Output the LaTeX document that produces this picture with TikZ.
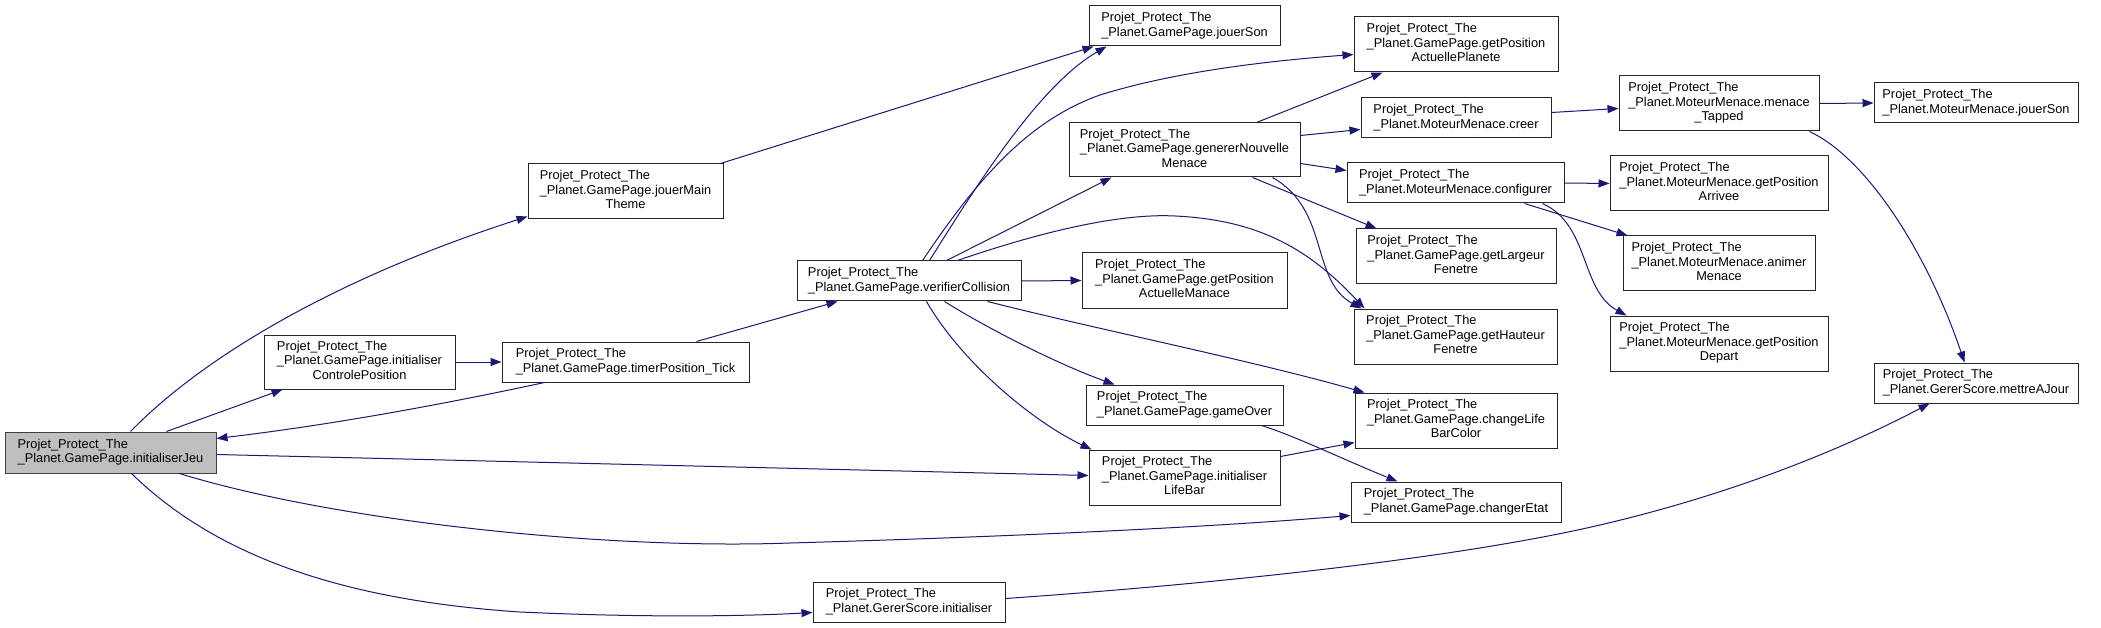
\documentclass[tikz,border=0pt]{standalone}
\usepackage{fontspec}
\setmainfont{Liberation Sans}
\usetikzlibrary{arrows.meta,calc}
\definecolor{edgeblue}{HTML}{191970}
\definecolor{rootgray}{HTML}{BFBFBF}
\newcommand\TwoL[2]{\begin{tabular}{@{}l@{}}#1\\#2\end{tabular}}
\newcommand\ThreeL[3]{\begin{tabular}{@{}l@{}}#1\\#2\\\multicolumn{1}{@{}c@{}}{#3}\end{tabular}}
\newcommand\PPT{Projet\_Protect\_The}
\begin{document}
\begin{tikzpicture}[x=1pt,y=-1pt,
 fn/.style={draw=black!85, fill=white, line width=1pt, rectangle, inner sep=0pt, font=\fontsize{12.8}{14.5}\selectfont},
 rootfn/.style={fn, fill=rootgray, draw=black!75},
 edge/.style={draw=edgeblue, line width=1pt, -{Triangle[length=11pt,width=8pt]}},
]
\useasboundingbox[fill=white] (0,0) rectangle (2101,628);

% nodes
\node[rootfn, minimum width=211, minimum height=41] (ij) at (110.5,452.5) {\TwoL{\PPT}{\_Planet.GamePage.initialiserJeu}};
\node[fn, minimum width=191, minimum height=54] (icp) at (359.5,362) {\ThreeL{\PPT}{\_Planet.GamePage.initialiser}{ControlePosition}};
\node[fn, minimum width=247, minimum height=40] (tpt) at (625.5,362) {\TwoL{\PPT}{\_Planet.GamePage.timerPosition\_Tick}};
\node[fn, minimum width=192, minimum height=40] (gsi) at (909,602) {\TwoL{\PPT}{\_Planet.GererScore.initialiser}};
\node[fn, minimum width=195, minimum height=55] (jmt) at (625.5,191.5) {\ThreeL{\PPT}{\_Planet.GamePage.jouerMain}{Theme}};
\node[fn, minimum width=224, minimum height=40] (vc) at (909,281) {\TwoL{\PPT}{\_Planet.GamePage.verifierCollision}};
\node[fn, minimum width=191, minimum height=40] (js) at (1184.5,26) {\TwoL{\PPT}{\_Planet.GamePage.jouerSon}};
\node[fn, minimum width=231, minimum height=54] (gnm) at (1184.5,150) {\ThreeL{\PPT}{\_Planet.GamePage.genererNouvelle}{Menace}};
\node[fn, minimum width=205, minimum height=55] (gpam) at (1184.5,280.5) {\ThreeL{\PPT}{\_Planet.GamePage.getPosition}{ActuelleManace}};
\node[fn, minimum width=197, minimum height=40] (go) at (1184.5,405) {\TwoL{\PPT}{\_Planet.GamePage.gameOver}};
\node[fn, minimum width=191, minimum height=55] (ilb) at (1184.5,477.5) {\ThreeL{\PPT}{\_Planet.GamePage.initialiser}{LifeBar}};
\node[fn, minimum width=204, minimum height=55] (gpap) at (1456,44.5) {\ThreeL{\PPT}{\_Planet.GamePage.getPosition}{ActuellePlanete}};
\node[fn, minimum width=190, minimum height=40] (cr) at (1456,118) {\TwoL{\PPT}{\_Planet.MoteurMenace.creer}};
\node[fn, minimum width=217, minimum height=40] (cf) at (1455.5,183) {\TwoL{\PPT}{\_Planet.MoteurMenace.configurer}};
\node[fn, minimum width=200, minimum height=55] (glf) at (1456,256.5) {\ThreeL{\PPT}{\_Planet.GamePage.getLargeur}{Fenetre}};
\node[fn, minimum width=203, minimum height=55] (ghf) at (1455.5,336.5) {\ThreeL{\PPT}{\_Planet.GamePage.getHauteur}{Fenetre}};
\node[fn, minimum width=202, minimum height=55] (clbc) at (1456,420.5) {\ThreeL{\PPT}{\_Planet.GamePage.changeLife}{BarColor}};
\node[fn, minimum width=210, minimum height=40] (ce) at (1456,502) {\TwoL{\PPT}{\_Planet.GamePage.changerEtat}};
\node[fn, minimum width=200, minimum height=55] (mt) at (1719,103.5) {\ThreeL{\PPT}{\_Planet.MoteurMenace.menace}{\_Tapped}};
\node[fn, minimum width=204, minimum height=40] (mjs) at (1976,103) {\TwoL{\PPT}{\_Planet.MoteurMenace.jouerSon}};
\node[fn, minimum width=218, minimum height=55] (gpa) at (1719,183.5) {\ThreeL{\PPT}{\_Planet.MoteurMenace.getPosition}{Arrivee}};
\node[fn, minimum width=192, minimum height=55] (am) at (1719,263.5) {\ThreeL{\PPT}{\_Planet.MoteurMenace.animer}{Menace}};
\node[fn, minimum width=218, minimum height=55] (gpd) at (1719,343.5) {\ThreeL{\PPT}{\_Planet.MoteurMenace.getPosition}{Depart}};
\node[fn, minimum width=204, minimum height=40] (maj) at (1976,383) {\TwoL{\PPT}{\_Planet.GererScore.mettreAJour}};

% edges
\draw[edge] ($(ij.north west)+(126,0)$) .. controls (200,360) and (330,280) .. ($(jmt.south west)+(0,-3)$);
\draw[edge] ($(ij.north west)+(162,0)$) -- ($(icp.south west)+(19,0)$);
\draw[edge] ($(tpt.south west)+(43,0)$) .. controls (440,405) and (330,425) .. ($(ij.north east)+(0,7)$);
\draw[edge] (icp.east) -- (tpt.west);
\draw[edge] ($(ij.north east)+(0,23)$) -- ($(ilb.north west)+(0,26)$);
\draw[edge] ($(ij.south west)+(175,0)$) .. controls (330,520) and (600,550) .. (790,543) .. controls (1000,537) and (1200,528) .. ($(ce.south west)+(0,-7)$);
\draw[edge] ($(ij.south west)+(127,0)$) .. controls (215,555) and (340,600) .. (520,612) .. controls (650,618) and (750,616) .. ($(gsi.north west)+(0,31)$);
\draw[edge] ($(tpt.north west)+(195,0)$) -- ($(vc.south west)+(41,0)$);
\draw[edge] ($(jmt.north east)+(-3,0)$) -- ($(js.south west)+(5,0)$);
\draw[edge] ($(vc.north west)+(133,0)$) .. controls (980,180) and (1040,85) .. ($(js.south west)+(18,0)$);
\draw[edge] ($(vc.north west)+(126,0)$) .. controls (980,175) and (1030,120) .. (1100,95) .. controls (1180,70) and (1280,60) .. ($(gpap.north west)+(0,38)$);
\draw[edge] ($(vc.north west)+(150,0)$) -- ($(gnm.south west)+(43,0)$);
\draw[edge] ($(vc.north west)+(161,0)$) .. controls (1040,232) and (1120,213) .. (1175,216) .. controls (1260,220) and (1310,250) .. ($(ghf.north west)+(11,0)$);
\draw[edge] (vc.east) -- (gpam.west);
\draw[edge] ($(vc.south west)+(148,0)$) .. controls (990,330) and (1060,365) .. ($(go.north west)+(29,0)$);
\draw[edge] ($(vc.south west)+(130,0)$) .. controls (960,360) and (1030,420) .. ($(ilb.north west)+(3,0)$);
\draw[edge] ($(vc.south west)+(191,0)$) .. controls (1100,330) and (1250,360) .. ($(clbc.north west)+(10,0)$);
\draw[edge] ($(go.south west)+(176,0)$) .. controls (1295,436) and (1340,458) .. ($(ce.north west)+(47,0)$);
\draw[edge] ($(ilb.north east)+(0,7)$) -- ($(clbc.south west)+(0,-6)$);
\draw[edge] ($(gnm.north west)+(188,0)$) -- ($(gpap.south west)+(29,0)$);
\draw[edge] ($(gnm.north east)+(0,13)$) -- ($(cr.north west)+(0,32)$);
\draw[edge] ($(gnm.north east)+(0,41)$) -- ($(cf.north west)+(0,8)$);
\draw[edge] ($(gnm.south west)+(184,0)$) -- ($(glf.north west)+(21,0)$);
\draw[edge] ($(gnm.south west)+(204,0)$) .. controls (1330,210) and (1310,280) .. ($(ghf.north west)+(8,0)$);
\draw[edge] ($(cr.north east)+(0,15)$) -- ($(mt.north west)+(0,33)$);
\draw[edge] (mt.east) -- (mjs.west);
\draw[edge] ($(mt.south west)+(191,0)$) .. controls (1870,160) and (1930,260) .. ($(maj.north west)+(91,0)$);
\draw[edge] (cf.east) -- (gpa.west);
\draw[edge] ($(cf.south west)+(178,0)$) -- ($(am.north west)+(5,0)$);
\draw[edge] ($(cf.south west)+(196,0)$) .. controls (1590,225) and (1580,290) .. ($(gpd.north west)+(17,0)$);
\draw[edge] ($(gsi.north east)+(0,17)$) .. controls (1200,585) and (1450,560) .. (1600,525) .. controls (1750,490) and (1860,440) .. ($(maj.south west)+(56,0)$);
\end{tikzpicture}
\end{document}
